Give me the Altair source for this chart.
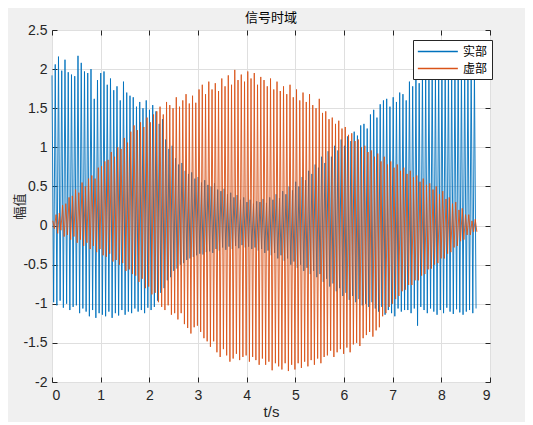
import altair as alt
import pandas as pd

T_END = 8.68

real_hi = [
    1.92, 2.06, 2.16, 1.98, 2.12, 1.96, 1.93, 1.91, 2.17, 2.08, 1.97, 1.95, 2.00, 1.62, 1.86, 1.95,
    1.97, 1.80, 1.88, 1.73, 1.78, 1.60, 1.84, 1.70, 1.66, 1.64, 1.52, 1.58, 1.50, 1.60, 1.48, 1.54,
    1.46, 1.30, 1.36, 1.10, 0.98, 1.02, 0.86, 0.78, 0.80, 0.70, 0.66, 0.68, 0.60, 0.62, 0.55, 0.58,
    0.52, 0.50, 0.54, 0.46, 0.44, 0.47, 0.40, 0.42, 0.36, 0.39, 0.33, 0.36, 0.30, 0.33, 0.28, 0.31,
    0.30, 0.34, 0.29, 0.36, 0.33, 0.40, 0.35, 0.44, 0.40, 0.50, 0.45, 0.56, 0.50, 0.62, 0.58, 0.70,
    0.66, 0.78, 0.74, 0.88, 0.80, 0.95, 0.88, 1.02, 0.96, 1.10, 1.02, 1.14, 1.08, 1.20, 1.15, 1.28,
    1.30, 1.24, 1.42, 1.48, 1.38, 1.55, 1.60, 1.62, 1.52, 1.64, 1.58, 1.70, 1.68, 1.60, 1.84, 1.78,
    1.88, 1.82, 1.95, 1.90, 1.86, 1.98, 1.92, 2.02, 1.95, 1.97, 2.04, 1.93, 2.00, 2.06, 1.98, 2.02,
    1.96, 2.03, 1.98,
]
real_lo = [
    -0.98, -1.02, -0.96, -1.05, -1.00, -1.08, -1.04, -1.02, -1.12, -1.06, -1.10, -1.16, -1.08, -1.18, -1.12, -1.14,
    -1.16, -1.10, -1.18, -1.12, -1.15, -1.08, -1.14, -1.10, -1.12, -1.06, -1.10, -1.08, -1.12, -1.05, -1.08, -1.04,
    -0.96, -0.86, -0.80, -0.70, -0.66, -0.58, -0.55, -0.50, -0.48, -0.44, -0.42, -0.40, -0.38, -0.36, -0.37, -0.34,
    -0.33, -0.35, -0.30, -0.32, -0.28, -0.31, -0.27, -0.30, -0.26, -0.29, -0.25, -0.28, -0.27, -0.30, -0.28, -0.32,
    -0.30, -0.35, -0.32, -0.38, -0.35, -0.42, -0.38, -0.45, -0.42, -0.50, -0.46, -0.54, -0.50, -0.58, -0.54, -0.62,
    -0.58, -0.66, -0.62, -0.72, -0.68, -0.78, -0.74, -0.84, -0.80, -0.90, -0.86, -0.95, -0.90, -0.98, -0.94, -1.02,
    -1.00, -1.04, -0.98, -1.06, -1.10, -1.04, -1.14, -1.08, -1.12, -1.16, -1.06, -1.10, -1.08, -1.08, -1.12, -1.06,
    -1.28, -1.04, -1.08, -1.12, -1.06, -1.10, -1.14, -1.08, -1.12, -1.05, -1.10, -1.13, -1.07, -1.11, -1.14, -1.10,
    -1.08, -1.12, -1.06,
]
imag_hi = [
    0.06, 0.14, 0.16, 0.26, 0.28, 0.36, 0.38, 0.46, 0.42, 0.55, 0.50, 0.60, 0.64, 0.60, 0.74, 0.76,
    0.82, 0.84, 0.94, 0.88, 1.00, 0.98, 1.12, 1.06, 1.20, 1.28, 1.22, 1.32, 1.26, 1.38, 1.32, 1.42,
    1.46, 1.52, 1.42, 1.58, 1.54, 1.50, 1.64, 1.52, 1.60, 1.68, 1.56, 1.66, 1.57, 1.74, 1.80, 1.68,
    1.84, 1.74, 1.82, 1.72, 1.88, 1.78, 1.92, 1.80, 1.99, 1.86, 1.93, 1.84, 1.97, 1.88, 1.95, 1.80,
    1.90, 1.86, 1.78, 1.88, 1.74, 1.84, 1.72, 1.78, 1.68, 1.80, 1.64, 1.74, 1.60, 1.70, 1.58, 1.68,
    1.54, 1.50, 1.62, 1.44, 1.46, 1.36, 1.38, 1.30, 1.34, 1.24, 1.26, 1.16, 1.18, 1.08, 1.10, 1.00,
    1.02, 0.94, 0.96, 0.88, 0.92, 0.82, 0.88, 0.78, 0.82, 0.74, 0.78, 0.70, 0.74, 0.66, 0.70, 0.62,
    0.64, 0.56, 0.60, 0.52, 0.54, 0.46, 0.50, 0.40, 0.44, 0.34, 0.36, 0.28, 0.30, 0.20, 0.22, 0.14,
    0.14, 0.06, 0.08,
]
imag_lo = [
    -0.04, -0.10, -0.06, -0.14, -0.12, -0.18, -0.14, -0.22, -0.18, -0.26, -0.22, -0.30, -0.26, -0.34, -0.30, -0.38,
    -0.40, -0.36, -0.46, -0.44, -0.50, -0.48, -0.58, -0.56, -0.62, -0.64, -0.72, -0.68, -0.80, -0.78, -0.88, -0.86,
    -0.98, -1.04, -1.08, -1.02, -1.14, -1.12, -1.20, -1.12, -1.26, -1.31, -1.38, -1.30, -1.28, -1.36, -1.44, -1.48,
    -1.55, -1.48, -1.62, -1.68, -1.58, -1.66, -1.74, -1.70, -1.64, -1.72, -1.68, -1.66, -1.74, -1.68, -1.72, -1.78,
    -1.70, -1.78, -1.74, -1.85, -1.76, -1.80, -1.84, -1.76, -1.86, -1.78, -1.84, -1.76, -1.82, -1.74, -1.80, -1.72,
    -1.78, -1.70, -1.76, -1.68, -1.66, -1.60, -1.68, -1.62, -1.58, -1.64, -1.56, -1.62, -1.52, -1.50, -1.54, -1.44,
    -1.40, -1.36, -1.42, -1.34, -1.30, -1.16, -1.12, -1.04, -1.00, -0.94, -0.90, -0.84, -0.82, -0.76, -0.76, -0.70,
    -0.70, -0.64, -0.62, -0.56, -0.55, -0.50, -0.48, -0.42, -0.42, -0.36, -0.34, -0.28, -0.26, -0.20, -0.18, -0.12,
    -0.12, -0.08, -0.08,
]

series_names = ["实部", "虚部"]
series_colors = ["#0072BD", "#D95319"]
x_ticks = [0, 1, 2, 3, 4, 5, 6, 7, 8, 9]
y_ticks = [-2, -1.5, -1, -0.5, 0, 0.5, 1, 1.5, 2, 2.5]

n = len(real_hi)
dt = T_END / (n - 1)
rows = []
for k in range(n):
    t0 = k * dt
    rows.append((series_names[0], t0, real_hi[k]))
    rows.append((series_names[0], t0 + dt / 2, real_lo[k]))
    rows.append((series_names[1], t0 + dt / 4, imag_hi[k]))
    rows.append((series_names[1], t0 + 3 * dt / 4, imag_lo[k]))
df = pd.DataFrame(rows, columns=["series", "t", "v"])

AX = "#262626"
GRID = "#dfdfdf"
LFONT = "Liberation Sans"
CJK = "Noto Sans CJK SC"

xs = alt.Scale(domain=[0, 9], nice=False, zero=False)
ys = alt.Scale(domain=[-2, 2.5], nice=False, zero=False)
color = alt.Color(
    "series:N",
    scale=alt.Scale(domain=series_names, range=series_colors),
    legend=alt.Legend(
        title=None, orient="none", legendX=361, legendY=10,
        symbolType="M-1,0H5", symbolSize=178, symbolStrokeWidth=1.3,
        labelFont=CJK, labelFontSize=12, labelColor="#000000",
        labelOffset=31, padding=4, rowPadding=3,
        strokeColor=AX, fillColor="#ffffff", cornerRadius=0,
    ),
)

x_main = alt.X("t:Q", scale=xs, axis=alt.Axis(
    orient="bottom", values=x_ticks, format="d", grid=True, gridColor=GRID,
    ticks=False, domain=False, labelFont=LFONT, labelFontSize=14, labelColor=AX,
    labelPadding=6, title="t/s", titleFont=LFONT, titleFontSize=15,
    titleFontWeight="normal", titleColor=AX, titlePadding=2))
y_main = alt.Y("v:Q", scale=ys, axis=alt.Axis(
    orient="left", values=y_ticks, labelExpr="datum.value + ''", grid=True,
    gridColor=GRID, ticks=False, domain=False, labelFont=LFONT, labelFontSize=14,
    labelColor=AX, labelPadding=5, title="幅值", titleFont=CJK, titleFontSize=13,
    titleFontWeight="normal", titleColor=AX, titlePadding=-4))

def tick_axis(orient, vals):
    return alt.Axis(orient=orient, offset=-5, values=vals, labels=False, grid=False,
                    domain=False, ticks=True, tickSize=5, tickColor=AX, title="")

blue = alt.Chart(df).transform_filter(alt.datum.series == series_names[0]).mark_line(
    strokeWidth=0.9).encode(x=x_main, y=y_main, color=color, order="t:Q")
orange = alt.Chart(df).transform_filter(alt.datum.series == series_names[1]).mark_line(
    strokeWidth=0.9).encode(
    x=alt.X("t:Q", scale=xs, axis=tick_axis("bottom", x_ticks)),
    y=alt.Y("v:Q", scale=ys, axis=tick_axis("left", y_ticks)),
    color=color, order="t:Q")
ghost = alt.Chart(df).mark_point(opacity=0).encode(
    x=alt.X("t:Q", scale=xs, axis=tick_axis("top", x_ticks)),
    y=alt.Y("v:Q", scale=ys, axis=tick_axis("right", y_ticks)))

chart = alt.layer(blue, orange, ghost).resolve_axis(x="independent", y="independent").properties(
    width=438, height=352,
    title=alt.TitleParams("信号时域", font=CJK, fontSize=13, fontWeight="normal",
                          color="#000000", anchor="middle", offset=-2),
    autosize=alt.AutoSizeParams(type="none"),
    padding={"left": 44, "top": 22, "right": 35, "bottom": 40},
    background="#f0f0f0",
).configure_view(fill="#ffffff", stroke=AX, strokeWidth=1)

chart.save("out.html", embed_options={"renderer": "svg", "actions": False})
